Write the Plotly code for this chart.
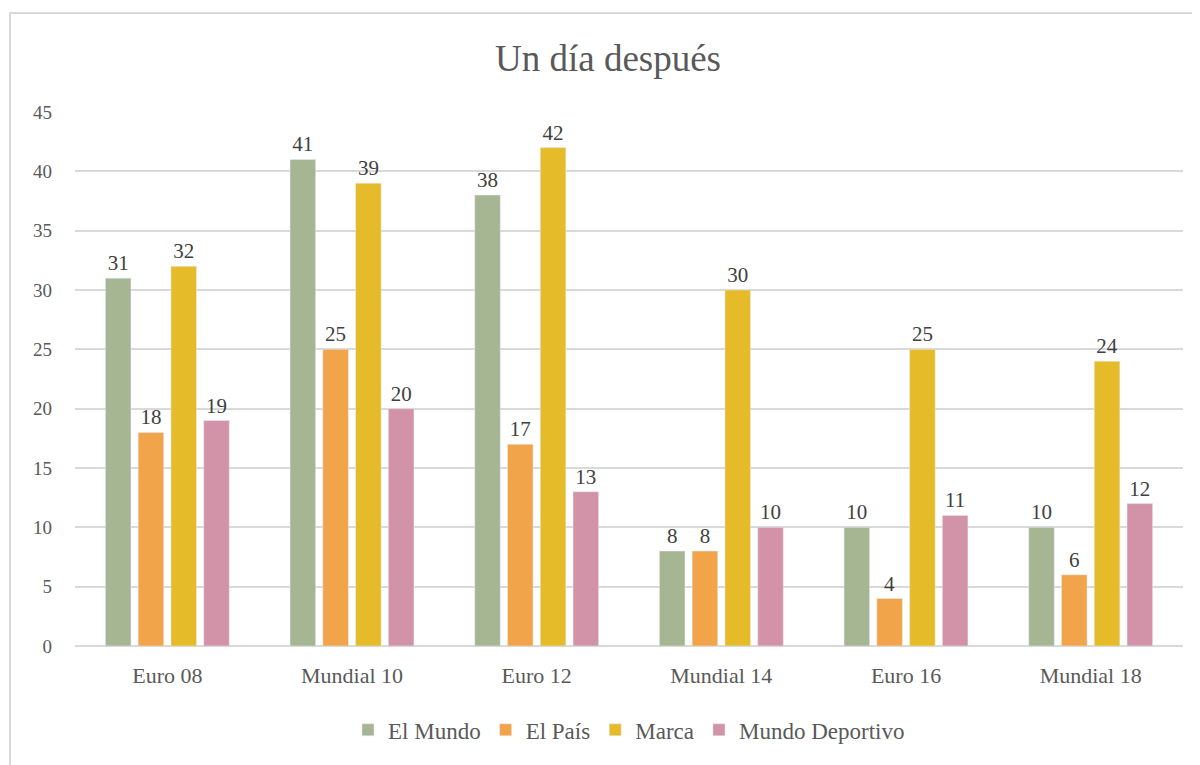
import plotly.graph_objects as go

categories = ["Euro 08", "Mundial 10", "Euro 12", "Mundial 14", "Euro 16", "Mundial 18"]
el_mundo = [31, 41, 38, 8, 10, 10]
el_pais = [18, 25, 17, 8, 4, 6]
marca = [32, 39, 42, 30, 25, 24]
mundo_deportivo = [19, 20, 13, 10, 11, 12]

series = [
    ("El Mundo", el_mundo, "#A6B592"),
    ("El País", el_pais, "#F2A44B"),
    ("Marca", marca, "#E5BB2A"),
    ("Mundo Deportivo", mundo_deportivo, "#D292A7"),
]

FONT = "Liberation Serif"
fig = go.Figure()
for name, vals, col in series:
    fig.add_trace(go.Bar(
        x=categories, y=vals, name=name, marker_color=col,
        text=vals, textposition="outside", cliponaxis=False,
        textfont=dict(size=21, color="#404040", family=FONT),
    ))

fig.update_layout(
    width=1200, height=765,
    margin=dict(l=67, r=25, t=104, b=127, autoexpand=False),
    paper_bgcolor="white", plot_bgcolor="white",
    barmode="group", bargap=0.29, bargroupgap=0.22,
    title=dict(text="Un día después", x=0.5, xanchor="center", y=0.9346, yanchor="middle",
               font=dict(size=37, color="#595959", family=FONT)),
    font=dict(family=FONT, color="#595959"),
    yaxis=dict(range=[0, 45], dtick=5, showgrid=True, gridcolor="#D9D9D9", gridwidth=1.5,
               zeroline=True, zerolinecolor="#D9D9D9", zerolinewidth=1.5,
               tickfont=dict(size=19, color="#595959"), ticks="", ticklabelstandoff=22,
               automargin=False),
    xaxis=dict(showgrid=False, showline=False, tickfont=dict(size=22, color="#595959"), ticks="",
               ticklabelstandoff=14, automargin=False),
    legend=dict(orientation="h", x=0.5, xanchor="center", y=-0.157, yanchor="middle",
                font=dict(size=23, color="#595959"), traceorder="normal", itemwidth=30),
    showlegend=True,
)
fig.add_shape(type="rect", xref="paper", yref="paper",
              x0=-0.0587, x1=1.1, y0=-0.3, y1=1.1854,
              line=dict(color="#D9D9D9", width=2), fillcolor="rgba(0,0,0,0)", layer="below")

fig.write_html("out.html")
